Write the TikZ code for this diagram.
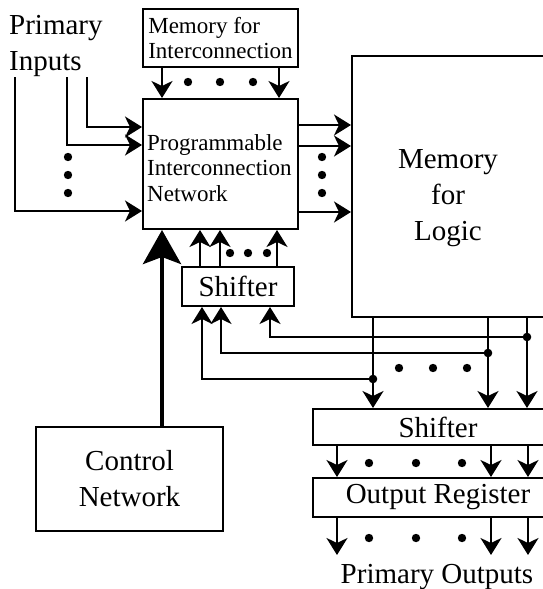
\documentclass[tikz,border=0pt]{standalone}
\usepackage{fontspec}
\setmainfont{Liberation Serif}
\usetikzlibrary{arrows.meta,calc}

\begin{document}
\begin{tikzpicture}[x=1pt,y=-1pt,
  blk/.style={draw,line width=2pt,inner sep=0pt,align=center},
  txt/.style={inner sep=0pt,align=center},
  bigtxt/.style={font=\fontsize{29}{36}\selectfont},
  smalltxt/.style={font=\fontsize{23}{25.5}\selectfont},
  wire/.style={line width=2.2pt},
  arr/.style={wire,-{Stealth[length=17pt,width=21pt,inset=5pt]}},
  heavyarr/.style={line width=4.4pt,-{Stealth[length=34pt,width=38pt,inset=7pt]}},
  dot/.style={fill=black}]
\useasboundingbox (0,0) rectangle (543,589);

% blocks
\node[blk,smalltxt,align=left,minimum width=155pt,minimum height=58pt] (mi) at (220.5,38)
  {Memory for\\Interconnection};
\node[blk,minimum width=155pt,minimum height=130pt] (pin) at (220.5,164) {};
\node[txt,smalltxt,align=left,anchor=west] (pintxt) at (147,168)
  {Programmable\\Interconnection\\Network};
\node[blk,minimum width=196pt,minimum height=261pt] (mlog) at (450,186.5) {};
\node[txt,bigtxt] (mlogtxt) at (448,198) {Memory\\for\\Logic};
\node[blk,bigtxt,minimum width=112pt,minimum height=39pt] (sh1) at (238,286.5) {Shifter};
\node[blk,bigtxt,minimum width=187pt,minimum height=104pt] (ctrl) at (129.5,479)
  {Control\\Network};
\node[blk,bigtxt,minimum width=250pt,minimum height=36pt] (sh2) at (438,427) {Shifter};
\node[blk,bigtxt,minimum width=250pt,minimum height=39pt] (oreg) at (438,497.5) {Output Register};

% labels
\node[bigtxt,align=left,anchor=north west,inner sep=0pt] (pi) at (9,15) {Primary\\Inputs};
\node[bigtxt,inner sep=0pt,anchor=base] (po) at (437,583) {Primary Outputs};

% primary inputs into the interconnection network
\coordinate (in1) at (87,77);
\coordinate (in2) at (67,77);
\coordinate (in3) at (15,77);
\draw[arr] (in1) |- (pin.west |- 0,127);
\draw[arr] (in2) |- (pin.west |- 0,145);
\draw[arr] (in3) |- (pin.west |- 0,211);
\foreach \y in {157,175,193} \fill[dot] (68,\y) circle (4.2pt);

% configuration memory into the network
\draw[arr] (mi.south -| 162,0) -- (pin.north -| 162,0);
\draw[arr] (mi.south -| 279,0) -- (pin.north -| 279,0);
\foreach \x in {188,220,253} \fill[dot] (\x,82) circle (4.2pt);

% network into logic memory
\draw[arr] (pin.east |- 0,125) -- (mlog.west |- 0,125);
\draw[arr] (pin.east |- 0,146) -- (mlog.west |- 0,146);
\draw[arr] (pin.east |- 0,212) -- (mlog.west |- 0,212);
\foreach \y in {157,175,193} \fill[dot] (322,\y) circle (4.2pt);

% control network
\draw[heavyarr] (ctrl.north -| 162,0) -- (pin.south -| 162,0);

% shifter into the network
\draw[arr] (sh1.north -| 200,0) -- (pin.south -| 200,0);
\draw[arr] (sh1.north -| 220,0) -- (pin.south -| 220,0);
\draw[arr] (sh1.north -| 277,0) -- (pin.south -| 277,0);
\foreach \x in {230,248,267} \fill[dot] (\x,253) circle (4.2pt);

% logic memory outputs
\draw[arr] (mlog.south -| 373,0) -- (sh2.north -| 373,0);
\draw[arr] (mlog.south -| 488,0) -- (sh2.north -| 488,0);
\draw[arr] (mlog.south -| 527,0) -- (sh2.north -| 527,0);
\foreach \x in {399,433,467} \fill[dot] (\x,368) circle (4.2pt);

% feedback to the upper shifter
\coordinate (j1) at (373,379);
\coordinate (j2) at (488,353);
\coordinate (j3) at (527,337);
\draw[arr] (j1) -| (sh1.south -| 202,0);
\draw[arr] (j2) -| (sh1.south -| 221,0);
\draw[arr] (j3) -| (sh1.south -| 270,0);
\foreach \j in {j1,j2,j3} \fill[dot] (\j) circle (4.3pt);

% lower shifter into output register
\draw[arr] (sh2.south -| 337,0) -- (oreg.north -| 337,0);
\draw[arr] (sh2.south -| 491,0) -- (oreg.north -| 491,0);
\draw[arr] (sh2.south -| 528,0) -- (oreg.north -| 528,0);
\foreach \x in {369,416,462} \fill[dot] (\x,463) circle (4.2pt);

% primary outputs
\coordinate (o1) at (337,555);
\coordinate (o2) at (491,555);
\coordinate (o3) at (528,555);
\draw[arr] (oreg.south -| o1) -- (o1);
\draw[arr] (oreg.south -| o2) -- (o2);
\draw[arr] (oreg.south -| o3) -- (o3);
\foreach \x in {369,416,462} \fill[dot] (\x,538) circle (4.2pt);
\end{tikzpicture}
\end{document}
